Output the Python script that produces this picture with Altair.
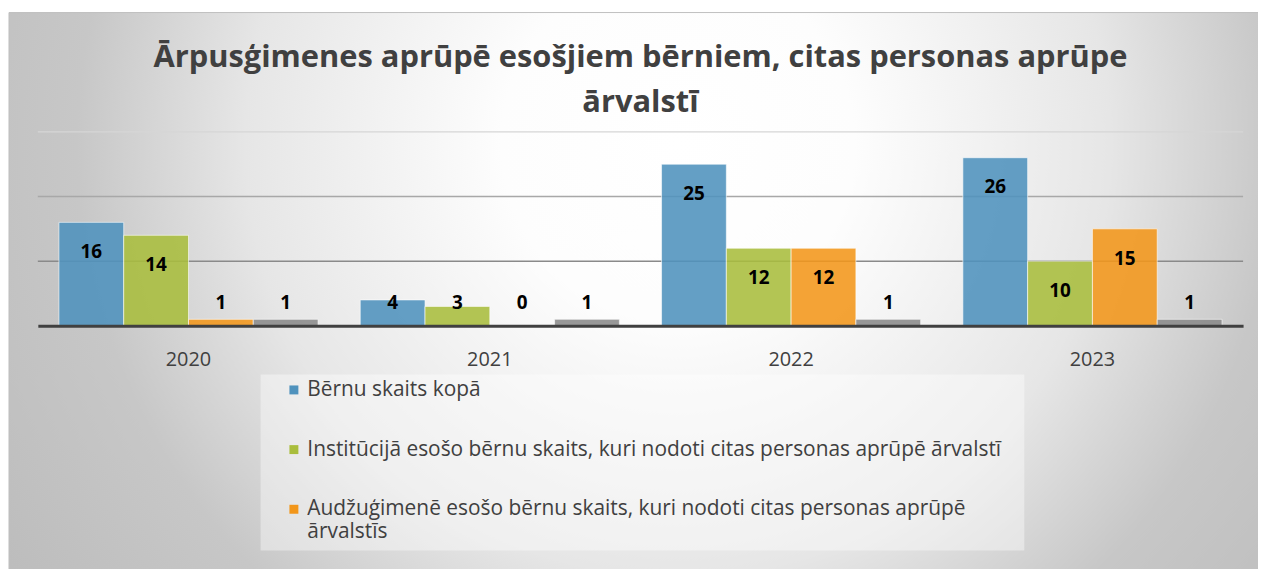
import altair as alt
import pandas as pd

years = ["2020", "2021", "2022", "2023"]
series = [
    "Bērnu skaits kopā",
    "Institūcijā esošo bērnu skaits, kuri nodoti citas personas aprūpē ārvalstī",
    "Audžuģimenē esošo bērnu skaits, kuri nodoti citas personas aprūpē ārvalstīs",
    "Aizbildņu ģimenē esošo bērnu skaits, kuri nodoti citas personas aprūpē ārvalstī",
]
total = [16, 4, 25, 26]
institution = [14, 3, 12, 10]
foster = [1, 0, 12, 15]
guardian = [1, 1, 1, 1]
grid_values = [10, 20, 30]
colors = ["#4f92bd", "#a9bd3c", "#f2961a", "#8a8a8a"]

rows = []
for s, vals in zip(series, [total, institution, foster, guardian]):
    for y, v in zip(years, vals):
        rows.append({"year": y, "series": s, "value": v})
df = pd.DataFrame(rows)

FONT = "Open Sans"
yscale = alt.Scale(domain=[0, 30], nice=False)

gradient = alt.RadialGradient(
    gradient="radial",
    stops=[
        alt.GradientStop(offset=0, color="#ffffff"),
        alt.GradientStop(offset=0.2, color="#fdfdfd"),
        alt.GradientStop(offset=0.49, color="#e6e6e6"),
        alt.GradientStop(offset=0.68, color="#c7c7c7"),
        alt.GradientStop(offset=1, color="#b8b8b8"),
    ],
    x1=0.53, y1=0.17, x2=0.53, y2=0.17, r1=0, r2=0.7,
)

bg = alt.Chart(pd.DataFrame({"k": [0]})).mark_rect(
    fill=gradient, stroke="#c0c0c0", strokeWidth=1
).encode(
    x=alt.value(-29), x2=alt.value(1240), y=alt.value(-120), y2=alt.value(980)
)

legend_box = alt.Chart(pd.DataFrame({"k": [0]})).mark_rect(
    fill="#ffffff", fillOpacity=0.4
).encode(
    x=alt.value(224), x2=alt.value(992), y=alt.value(244), y2=alt.value(421)
)

grid = alt.Chart(pd.DataFrame({"g": grid_values})).mark_rule(strokeWidth=1.5).encode(
    y=alt.Y("g:Q", scale=yscale, axis=None),
    stroke=alt.when(alt.datum.g == 10).then(alt.value("#8a8a8a"))
    .when(alt.datum.g == 20).then(alt.value("#a8a8a8"))
    .otherwise(alt.value("#d6d6d6")),
)

xenc = alt.X(
    "year:N",
    sort=years,
    scale=alt.Scale(paddingInner=0.14, paddingOuter=0.07),
    axis=alt.Axis(
        title=None, labelAngle=0, ticks=False, domainColor="#404040", domainWidth=3,
        labelFont=FONT, labelFontSize=20, labelColor="#404040", labelPadding=24,
        zindex=1,
    ),
)
xoff = alt.XOffset("series:N", sort=series, scale=alt.Scale(paddingInner=0, paddingOuter=0))

base = alt.Chart(df)

bars = base.mark_bar(
    fillOpacity=0.88, stroke="#ffffff", strokeOpacity=0.6, strokeWidth=1
).encode(
    x=xenc,
    xOffset=xoff,
    y=alt.Y("value:Q", scale=yscale, axis=None),
    color=alt.Color(
        "series:N",
        sort=series,
        scale=alt.Scale(domain=series, range=colors),
        legend=alt.Legend(
            values=series[:3],
            title=None,
            orient="none",
            legendX=247,
            legendY=249,
            direction="vertical",
            symbolType="square",
            symbolSize=81,
            symbolStrokeWidth=0,
            symbolOpacity=1,
            labelFont=FONT,
            labelFontSize=21,
            labelColor="#404040",
            labelLimit=1200,
            labelOffset=3,
            rowPadding=38,
            padding=0,
            labelExpr=(
                "length(datum.label) > 74 ? "
                "[substring(datum.label, 0, lastindexof(substring(datum.label, 0, 72), ' ')), "
                "substring(datum.label, lastindexof(substring(datum.label, 0, 72), ' ') + 1)] "
                ": datum.label"
            ),
        ),
    ),
)

labels = base.transform_calculate(
    ly="max(datum.value - 4.6, 3.5)"
).mark_text(
    font=FONT, fontSize=19, fontWeight="bold", color="#000000", baseline="middle"
).encode(
    x=xenc,
    xOffset=xoff,
    y=alt.Y("ly:Q", scale=yscale, axis=None),
    text="value:Q",
)

chart = alt.layer(bg, legend_box, grid, bars, labels).properties(
    width=1212,
    height=195,
    padding={"left": 30, "top": 123, "right": 15, "bottom": 243},
    autosize=alt.AutoSizeParams(type="none"),
    title=alt.TitleParams(
        text=["Ārpusģimenes aprūpē esošjiem bērniem, citas personas aprūpe", "ārvalstī"],
        font=FONT, fontSize=31, fontWeight="bold", color="#404040",
        lineHeight=46, anchor="middle", frame="group", offset=-108,
    ),
).configure_view(strokeWidth=0)

chart.save("out.html", embed_options={"renderer": "svg", "actions": False})
